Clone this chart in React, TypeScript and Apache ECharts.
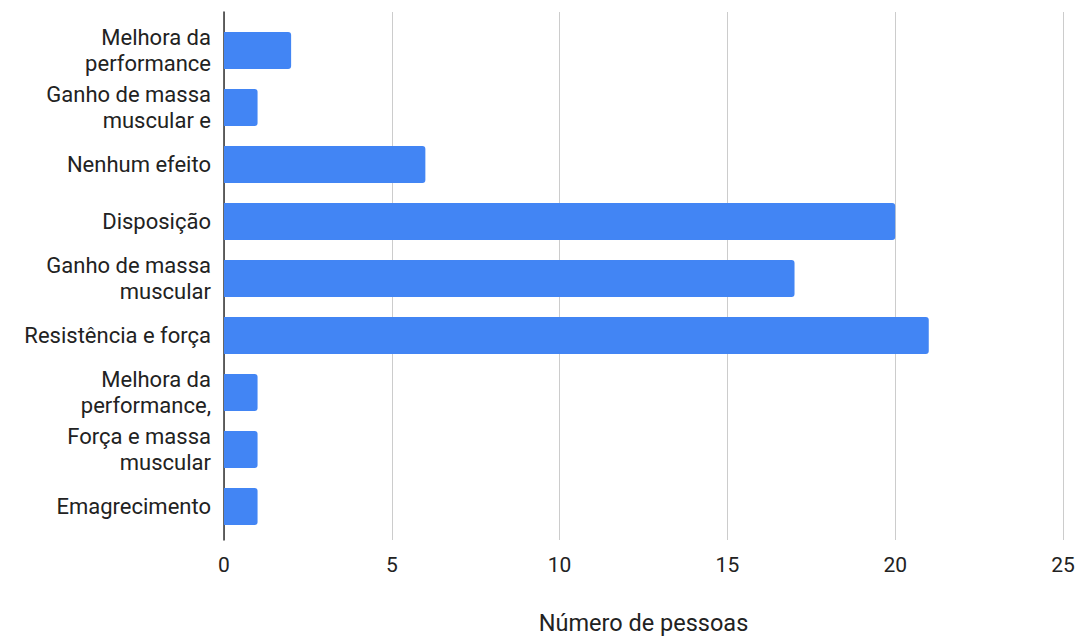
import React, { useEffect, useRef } from "react";
import * as echarts from "echarts";

// Effects reported by respondents (top to bottom) and how many people named each.
const categories: string[] = [
  "Melhora da\nperformance",
  "Ganho de massa\nmuscular e",
  "Nenhum efeito",
  "Disposição",
  "Ganho de massa\nmuscular",
  "Resistência e força",
  "Melhora da\nperformance,",
  "Força e massa\nmuscular",
  "Emagrecimento",
];
const pessoas: number[] = [2, 1, 6, 20, 17, 21, 1, 1, 1];

const xMin = 0;
const xMax = 25;
const xInterval = 5;
const xTitle = "Número de pessoas";

const FONT = "Roboto, Arial, sans-serif";
const TEXT = "#222222";
const BAR = "#4285F4";

export default function App() {
  const ref = useRef<HTMLDivElement>(null);

  useEffect(() => {
    if (!ref.current) return;
    const chart = echarts.init(ref.current, undefined, { renderer: "svg" });
    chart.setOption({
      animation: false,
      backgroundColor: "#ffffff",
      textStyle: { fontFamily: FONT },
      grid: [
        // frame: gridlines, value labels and the vertical axis line
        { left: 224, right: 16, top: 12, bottom: 95, containLabel: false },
        // bars and category labels
        { left: 224, right: 16, top: 22, bottom: 105, containLabel: false },
      ],
      xAxis: [
        {
          gridIndex: 0,
          type: "value",
          min: xMin,
          max: xMax,
          interval: xInterval,
          name: xTitle,
          nameLocation: "middle",
          nameGap: 71,
          nameTextStyle: { color: TEXT, fontSize: 23.5, fontFamily: FONT },
          axisLine: { show: false },
          axisTick: { show: false },
          axisLabel: { color: TEXT, fontSize: 21, fontFamily: FONT, margin: 14 },
          splitLine: { show: true, lineStyle: { color: "#cccccc", width: 1 } },
        },
        {
          gridIndex: 1,
          type: "value",
          min: xMin,
          max: xMax,
          interval: xInterval,
          show: false,
        },
      ],
      yAxis: [
        {
          gridIndex: 0,
          type: "category",
          data: [""],
          axisLine: { show: true, lineStyle: { color: "#333333", width: 1.5 } },
          axisTick: { show: false },
          axisLabel: { show: false },
          splitLine: { show: false },
        },
        {
          gridIndex: 1,
          type: "category",
          inverse: true,
          data: categories,
          axisLine: { show: false },
          axisTick: { show: false },
          splitLine: { show: false },
          axisLabel: {
            color: TEXT,
            fontSize: 22,
            lineHeight: 26,
            fontFamily: FONT,
            margin: 13,
            align: "right",
          },
        },
      ],
      series: [
        {
          type: "bar",
          xAxisIndex: 1,
          yAxisIndex: 1,
          data: pessoas,
          barWidth: 37,
          itemStyle: { color: BAR, borderRadius: [0, 3, 3, 0] },
        },
      ],
    });
    return () => chart.dispose();
  }, []);

  return (
    <div
      ref={ref}
      style={{ position: "fixed", left: 0, top: 0, width: 1079, height: 640, background: "#fff" }}
    />
  );
}
